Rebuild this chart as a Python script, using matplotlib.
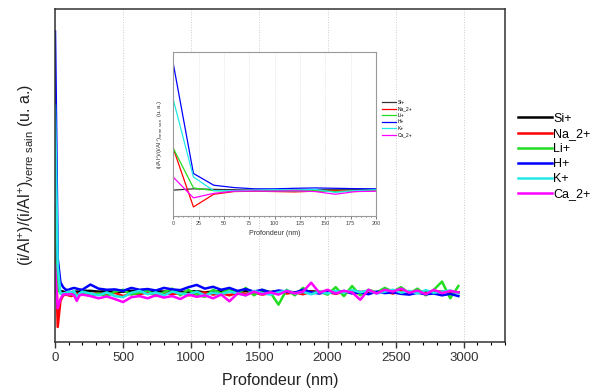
import numpy as np
import matplotlib.pyplot as plt
from matplotlib.ticker import MultipleLocator

plt.rcParams['font.family'] = ['Liberation Sans', 'DejaVu Sans']
plt.rcParams['mathtext.default'] = 'regular'

# depth points (nm): fine steps near the surface, coarser after
depth = [0, 20, 40, 60, 80, 100, 120, 140, 160, 180, 200,
         260, 320, 380, 440, 500, 560, 620, 680, 740, 800, 860, 920, 980,
         1040, 1100, 1160, 1220, 1280, 1340, 1400, 1460, 1520, 1580, 1640,
         1700, 1760, 1820, 1880, 1940, 2000, 2060, 2120, 2180, 2240, 2300,
         2360, 2420, 2480, 2540, 2600, 2660, 2720, 2780, 2840, 2900, 2960]

si = [0.98, 1.05, 1.02, 1.0, 0.98, 0.97, 0.98, 1.0, 1.0, 1.0, 1.02,
      1.02, 1.0, 1.01, 0.99, 1.0, 1.02, 1.0, 0.99, 1.01, 1.0, 1.02, 0.99, 1.0,
      1.01, 0.98, 1.0, 1.01, 0.99, 1.0, 1.02, 0.98, 1.0, 0.99, 1.01,
      1.0, 0.98, 1.0, 1.01, 0.99, 1.0, 0.98, 1.0, 1.01, 0.99, 1.0,
      0.98, 1.0, 0.99, 1.01, 0.98, 1.0, 0.99, 0.98, 1.0, 0.99, 0.98]
na = [3.3, 0.05, 0.75, 0.9, 0.92, 0.9, 0.88, 0.92, 0.95, 0.9, 0.95,
      0.92, 0.95, 0.9, 0.97, 0.88, 0.95, 0.93, 0.98, 0.9, 0.96, 0.93, 0.97, 0.9,
      0.95, 0.98, 0.92, 0.96, 0.9, 0.97, 0.94, 0.98, 0.92, 0.96, 1.0,
      0.95, 0.98, 0.93, 1.0, 0.96, 0.99, 0.94, 1.0, 0.97, 0.95, 1.01,
      0.97, 1.0, 0.95, 1.02, 0.97, 1.0, 0.96, 1.02, 0.98, 1.0, 0.97]
li = [3.3, 1.1, 0.95, 0.92, 0.95, 0.93, 0.92, 0.95, 0.9, 0.92, 0.98,
      0.9, 0.95, 0.88, 1.0, 1.05, 0.92, 0.97, 1.03, 0.88, 0.98, 1.08, 0.9, 1.05,
      0.92, 0.86, 1.05, 0.95, 1.08, 0.93, 1.1, 0.9, 1.05, 0.98, 0.65,
      1.05, 0.9, 1.1, 0.95, 1.0, 0.92, 1.12, 0.88, 1.15, 0.9, 1.05,
      0.98, 1.1, 1.0, 1.12, 0.95, 1.08, 0.9, 1.05, 1.27, 0.82, 1.15]
h = [8.0, 1.9, 1.25, 1.12, 1.05, 1.05, 1.08, 1.1, 1.08, 1.06, 1.05,
     1.19, 1.08, 1.05, 1.06, 1.02, 1.1, 1.05, 1.07, 1.03, 1.1, 1.06, 1.04, 1.12,
     1.18, 1.08, 1.13, 1.05, 1.1, 1.02, 1.07, 1.0, 1.05, 0.98, 1.03,
     1.0, 0.97, 1.05, 0.98, 0.95, 1.0, 0.96, 1.02, 0.95, 0.98, 0.93,
     1.0, 0.96, 0.98, 0.94, 0.92, 0.97, 0.93, 0.95, 0.9, 0.94, 0.88]
k = [6.0, 1.7, 0.95, 0.95, 0.97, 1.0, 0.98, 1.02, 0.85, 0.95, 1.0,
     0.95, 0.9, 0.98, 0.88, 0.85, 0.97, 1.02, 0.93, 0.98, 0.9, 1.0, 0.95, 0.92,
     1.0, 0.9, 0.97, 0.93, 1.0, 0.95, 0.9, 1.02, 0.96, 0.92, 0.98,
     1.03, 0.95, 0.99, 0.93, 1.0, 0.95, 1.02, 0.97, 1.04, 0.98, 1.03,
     0.95, 1.0, 1.05, 0.97, 1.02, 0.95, 1.04, 0.97, 1.0, 1.03, 0.95]
ca = [1.7, 0.55, 0.8, 0.92, 0.93, 0.92, 0.94, 0.9, 0.75, 0.9, 0.92,
      0.88, 0.82, 0.87, 0.8, 0.72, 0.85, 0.88, 0.82, 0.9, 0.84, 0.88, 0.8, 0.92,
      0.86, 0.9, 0.82, 0.92, 0.74, 0.95, 0.9, 1.0, 0.93, 0.98, 0.92,
      1.02, 0.95, 1.0, 1.24, 0.97, 1.05, 0.95, 1.02, 0.98, 0.78, 1.05,
      0.95, 1.05, 1.0, 1.08, 0.97, 1.03, 0.93, 1.05, 0.96, 1.02, 0.98]

series = [si, na, li, h, k, ca]
labels = ["Si+", "Na_2+", "Li+", "H+", "K+", "Ca_2+"]
colors = ["black", "#ff0000", "#22dd22", "#0000ff", "#22e8e8", "#ff00ff"]

fig = plt.figure(figsize=(5.91, 3.92), dpi=100)
ax = fig.add_axes([0.093, 0.128, 0.761, 0.849])

lines = []
for y, lab, c in zip(series, labels, colors):
    ln, = ax.plot(depth, y, color=c, lw=1.8, label=lab)
    lines.append(ln)

ax.set_xlim(0, 3300)
ax.set_ylim(-0.35, 8.6)
ax.xaxis.set_major_locator(MultipleLocator(500))
ax.xaxis.set_minor_locator(MultipleLocator(100))
ax.set_yticks([])
ax.grid(axis='x', ls=':', color='#cccccc', lw=0.7)
ax.tick_params(axis='x', direction='out', length=4, width=1, colors='#333333',
               labelsize=9.5)
ax.tick_params(axis='x', which='minor', length=2.5, width=0.8)
for s in ax.spines.values():
    s.set_color('#333333')
    s.set_linewidth(1.1)
ax.set_xlabel("Profondeur (nm)", fontsize=11.5, color='#222222', labelpad=6)
ax.set_ylabel("(i/Al$^{+}$)/(i/Al$^{+}$)$_{verre\\ sain}$ (u. a.)",
              fontsize=11.5, color='#222222', labelpad=14)

fig.legend(handles=lines, loc='upper left', bbox_to_anchor=(0.868, 0.725),
           frameon=False, fontsize=9, handlelength=2.7, handletextpad=0.1,
           labelspacing=0.25, borderaxespad=0)

# inset: zoom on the first 200 nm
axin = fig.add_axes([0.293, 0.449, 0.343, 0.418])
inlines = []
for y, lab, c in zip(series, labels, colors):
    cc = '#333333' if c == 'black' else c
    ln, = axin.plot(depth, y, color=cc, lw=0.9, label=lab)
    inlines.append(ln)
axin.set_xlim(0, 200)
axin.set_ylim(-0.45, 8.6)
axin.xaxis.set_major_locator(MultipleLocator(25))
axin.xaxis.set_minor_locator(MultipleLocator(5))
axin.set_yticks([])
axin.grid(axis='x', ls=':', color='#d5d5d5', lw=0.5)
axin.tick_params(axis='x', labelsize=4, length=2, width=0.5, colors='#444444', pad=1.5)
axin.tick_params(axis='x', which='minor', length=1, width=0.4)
for s in axin.spines.values():
    s.set_color('#999999')
    s.set_linewidth(0.8)
axin.set_xlabel("Profondeur (nm)", fontsize=5, color='#333333', labelpad=3)
axin.set_ylabel("(i/Al$^{+}$)/(i/Al$^{+}$)$_{verre\\ sain}$ (u. a.)",
                fontsize=4.3, color='#333333', labelpad=6)
axin.legend(handles=inlines, loc='upper left', bbox_to_anchor=(1.02, 0.72),
            frameon=False, fontsize=3.5, handlelength=3, handletextpad=0.2,
            labelspacing=0.3, borderaxespad=0)

fig.savefig("out.png", dpi=100)
